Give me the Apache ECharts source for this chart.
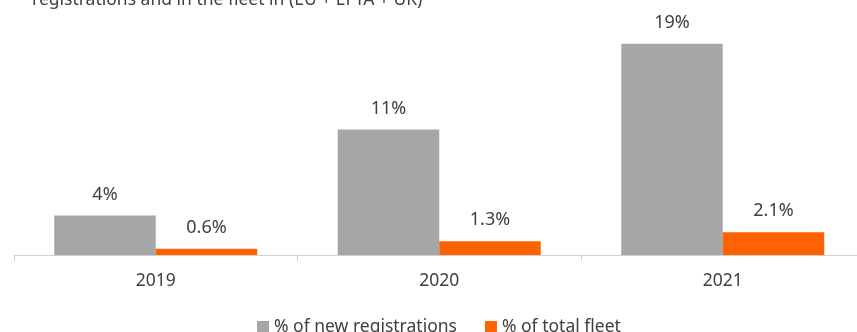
<!DOCTYPE html>
<html>
<head>
<meta charset="utf-8">
<script src="https://cdn.jsdelivr.net/npm/echarts@6/dist/echarts.min.js"></script>
<style>
  html, body { margin: 0; padding: 0; background: #ffffff; }
  #chart { width: 857px; height: 332px; }
</style>
</head>
<body>
<div id="chart"></div>
<script>
// Data
const titleLine = "registrations and in the fleet in (EU + EFTA + UK)";
const categories = ["2019", "2020", "2021"];
const seriesNames = ["% of new registrations", "% of total fleet"];
const newRegistrations = [3.6, 11.4, 19.2];
const totalFleet = [0.56, 1.26, 2.06];
const newRegLabels = ["4%", "11%", "19%"];
const fleetLabels = ["0.6%", "1.3%", "2.1%"];

const FONT = "'Noto Sans', sans-serif";
const TEXT = "#404040";

const chart = echarts.init(document.getElementById('chart'), null, { renderer: 'canvas' });
chart.setOption({
  animation: false,
  backgroundColor: '#ffffff',
  textStyle: { fontFamily: FONT },
  graphic: [{
    type: 'text',
    x: 32, y: 9,
    style: { text: titleLine, font: "17.5px " + FONT, fill: TEXT, verticalAlign: 'bottom' }
  }],
  legend: {
    top: 313,
    left: 252,
    itemWidth: 12, itemHeight: 12, itemGap: 28,
    icon: 'rect',
    textStyle: { fontSize: 17.5, color: TEXT, fontFamily: FONT },
    data: seriesNames
  },
  grid: { left: 14, width: 850.5, top: 35, height: 220, containLabel: false, outerBoundsMode: 'none' },
  xAxis: {
    type: 'category',
    data: categories,
    axisLine: { show: true, lineStyle: { color: '#d0d0d0', width: 1 } },
    axisTick: { show: true, length: 6, lineStyle: { color: '#d0d0d0' } },
    axisLabel: { fontSize: 17.5, color: TEXT, margin: 17, fontFamily: FONT },
    splitLine: { show: false }
  },
  yAxis: {
    type: 'value', min: 0, max: 20,
    show: false,
    splitLine: { show: false }
  },
  series: [
    {
      name: seriesNames[0], type: 'bar', data: newRegistrations,
      barWidth: 101.5, barGap: '0%',
      itemStyle: { color: '#a6a6a6' },
      label: { show: true, position: 'top', distance: 12, fontSize: 18, color: TEXT, fontFamily: FONT,
        formatter: p => newRegLabels[p.dataIndex] }
    },
    {
      name: seriesNames[1], type: 'bar', data: totalFleet,
      barWidth: 101.5, barGap: '0%',
      itemStyle: { color: '#ff6200' },
      label: { show: true, position: 'top', distance: 12, fontSize: 18, color: TEXT, fontFamily: FONT,
        formatter: p => fleetLabels[p.dataIndex] }
    }
  ]
});
</script>
</body>
</html>
